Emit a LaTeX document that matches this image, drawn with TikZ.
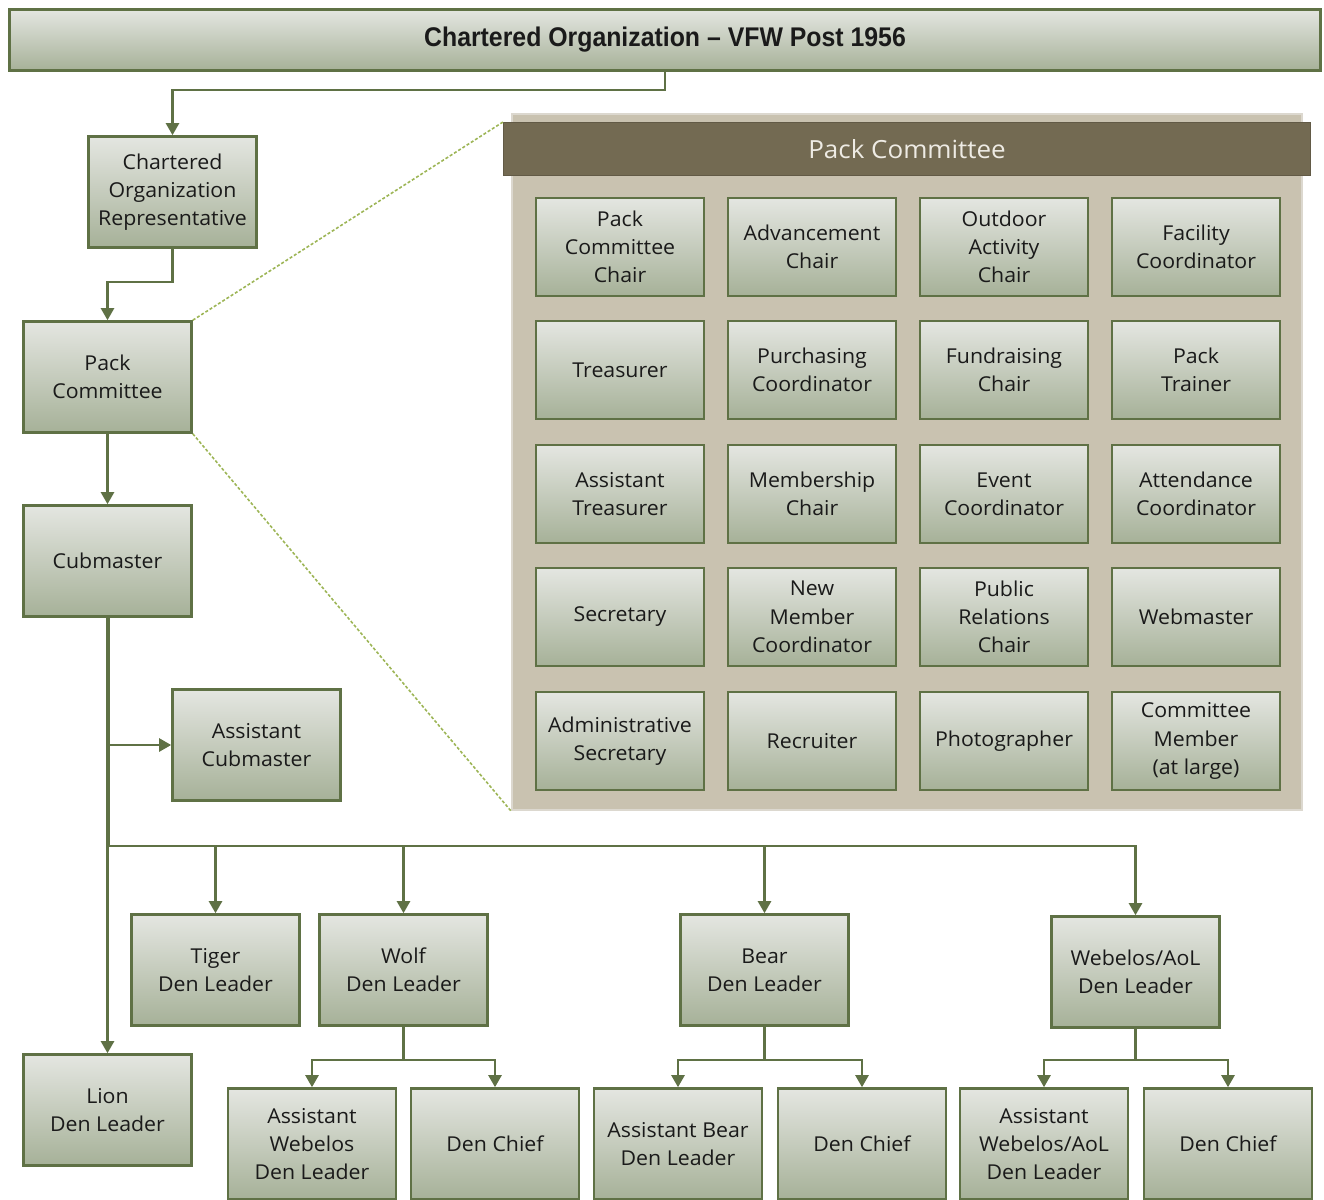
\documentclass[tikz,border=0pt]{standalone}
\usepackage{fontspec}
\setmainfont[FakeStretch=1.04]{Open Sans}
\newfontfamily\titlefont[FakeStretch=0.92]{Liberation Sans}
\usetikzlibrary{arrows.meta}
\definecolor{bordc}{HTML}{5F7145}
\definecolor{topc}{HTML}{E4E6E1}
\definecolor{botc}{HTML}{A6B198}
\definecolor{panelc}{HTML}{C9C2B0}
\definecolor{panelb}{HTML}{DCD8CF}
\definecolor{hdrc}{HTML}{736A52}
\definecolor{hdrt}{HTML}{EEEBE4}
\definecolor{dotc}{HTML}{9DB556}
\definecolor{textc}{HTML}{1A1A1A}
\tikzset{
  box/.style={draw=bordc, line width=2.6pt, top color=topc, bottom color=botc,
    align=center, inner sep=0pt, text=textc,
    font=\fontsize{20.5}{28.3}\selectfont},
  std/.style={box, minimum width=168pt, minimum height=111pt},
  cell/.style={box, minimum width=168pt, minimum height=98pt},
  conn/.style={draw=bordc, line width=2.4pt},
  arr/.style={conn, -{Triangle[width=13pt,length=12pt]}},
  thickconn/.style={draw=bordc, line width=4pt},
  zoomline/.style={draw=dotc, line width=1.6pt, dash pattern=on 3pt off 2pt}
}
\begin{document}
\begin{tikzpicture}[x=1pt,y=-1pt]
\useasboundingbox (0,0) rectangle (1324,1199);
\clip (0,0) rectangle (1324,1199);
% top banner
\node[box, minimum width=1311pt, minimum height=61pt, font=\titlefont\bfseries\fontsize{27}{30}\selectfont] (top) at (665,40) {Chartered Organization – VFW Post 1956};
% left column
\node[std] (cor) at (172.5,192) {Chartered\\Organization\\Representative};
\node[std] (pc) at (107.5,377) {Pack\\Committee};
\node[std] (cub) at (107.5,561) {Cubmaster};
\node[std] (acm) at (256.5,745) {Assistant\\Cubmaster};
\node[std] (tiger) at (215.5,970) {Tiger\\Den Leader};
\node[std] (wolf) at (403.5,970) {Wolf\\Den Leader};
\node[std] (bear) at (764.5,970) {Bear\\Den Leader};
\node[std] (web) at (1135.5,972) {Webelos/AoL\\Den Leader};
\node[std] (lion) at (107.5,1110) {Lion\\Den Leader};
% bottom row
\node[std] (awdl) at (312,1144) {Assistant\\Webelos\\Den Leader};
\node[std] (dc1) at (495,1144) {Den Chief};
\node[std] (abdl) at (678,1144) {Assistant Bear\\Den Leader};
\node[std] (dc2) at (862,1144) {Den Chief};
\node[std] (awadl) at (1044,1144) {Assistant\\Webelos/AoL\\Den Leader};
\node[std] (dc3) at (1228,1144) {Den Chief};
% panel
\node[fill=panelc, draw=panelb, line width=2pt, minimum width=790pt, minimum height=696pt, inner sep=0pt] (panel) at (907,462) {};
\node[fill=hdrc, draw=hdrc!85!black, line width=1pt, minimum width=807pt, minimum height=53pt, inner sep=0pt, text=hdrt, font=\fontsize{25}{28}\selectfont] (hdr) at (907,149) {Pack Committee};
% grid
\node[cell] (c11) at (620,247) {Pack\\Committee\\Chair};
\node[cell] (c12) at (812,247) {Advancement\\Chair};
\node[cell] (c13) at (1004,247) {Outdoor\\Activity\\Chair};
\node[cell] (c14) at (1196,247) {Facility\\Coordinator};
\node[cell] (c21) at (620,370) {Treasurer};
\node[cell] (c22) at (812,370) {Purchasing\\Coordinator};
\node[cell] (c23) at (1004,370) {Fundraising\\Chair};
\node[cell] (c24) at (1196,370) {Pack\\Trainer};
\node[cell] (c31) at (620,494) {Assistant\\Treasurer};
\node[cell] (c32) at (812,494) {Membership\\Chair};
\node[cell] (c33) at (1004,494) {Event\\Coordinator};
\node[cell] (c34) at (1196,494) {Attendance\\Coordinator};
\node[cell] (c41) at (620,617) {Secretary};
\node[cell] (c42) at (812,617) {New\\Member\\Coordinator};
\node[cell] (c43) at (1004,617) {Public\\Relations\\Chair};
\node[cell] (c44) at (1196,617) {Webmaster};
\node[cell] (c51) at (620,741) {Administrative\\Secretary};
\node[cell] (c52) at (812,741) {Recruiter};
\node[cell] (c53) at (1004,741) {Photographer};
\node[cell] (c54) at (1196,741) {Committee\\Member\\(at large)};
% zoom lines
\draw[zoomline] (pc.north east) -- (hdr.north west);
\draw[zoomline] (pc.south east) -- (panel.south west);
% connectors
\draw[arr] (top.south) -- ++(0,18) -| (cor.north);
\draw[arr] (cor.south) -- ++(0,33) -| (pc.north);
\draw[arr] (pc.south) -- (cub.north);
\draw[thickconn] (cub.south) -- (cub.south |- 0,846) coordinate (jn);
\draw[arr] (jn) -- (lion.north);
\draw[arr] (acm.west -| cub.south) -- (acm.west);
\draw[arr] (jn) -| (web.north);
\draw[arr] (tiger.north |- jn) -- (tiger.north);
\draw[arr] (wolf.north |- jn) -- (wolf.north);
\draw[arr] (bear.north |- jn) -- (bear.north);
\draw[conn] (wolf.south) -- ++(0,33) coordinate (w1);
\draw[arr] (w1) -| (awdl.north);
\draw[arr] (w1) -| (dc1.north);
\draw[conn] (bear.south) -- ++(0,33) coordinate (b1);
\draw[arr] (b1) -| (abdl.north);
\draw[arr] (b1) -| (dc2.north);
\draw[conn] (web.south) -- ++(0,31) coordinate (e1);
\draw[arr] (e1) -| (awadl.north);
\draw[arr] (e1) -| (dc3.north);
\end{tikzpicture}
\end{document}
